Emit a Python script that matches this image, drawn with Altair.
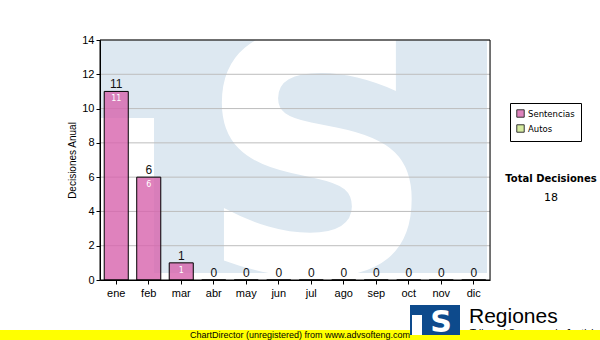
import altair as alt
import pandas as pd

# ---------------- data ----------------
months = ["ene", "feb", "mar", "abr", "may", "jun", "jul", "ago", "sep", "oct", "nov", "dic"]
sentencias = [11, 6, 1, 0, 0, 0, 0, 0, 0, 0, 0, 0]
series_names = ["Sentencias", "Autos"]
series_colors = ["#d763ac", "#cce788"]
y_ticks = [0, 2, 4, 6, 8, 10, 12, 14]
grid_values = [2, 4, 6, 8, 10, 12, 14]
y_title = "Decisiones Anual"
total_label = "Total Decisiones"
total_value = sum(sentencias)
footer_text = "ChartDirector (unregistered) from www.advsofteng.com"
logo_text = "Regiones"
logo_sub = "Tribunal Supremo de Justicia"

W, H = 390, 240
FONT = "Liberation Sans"

df = pd.DataFrame({"mes": months, "valor": sentencias, "serie": ["Sentencias"] * len(months)})
df_grid = pd.DataFrame({"valor": grid_values})
one = pd.DataFrame({"k": [0]})

x_enc = alt.X(
    "mes:N", sort=months,
    scale=alt.Scale(paddingInner=0.26, paddingOuter=0.13),
    axis=alt.Axis(title=None, labelAngle=0, tickSize=4, labelFont=FONT, labelFontSize=11,
                  labelColor="black", tickColor="black", domainColor="black", labelPadding=3,
                  zindex=1),
)
y_axis = alt.Axis(title=y_title, values=y_ticks, grid=False, tickSize=4, labelFont=FONT,
                  labelFontSize=11, labelColor="black", tickColor="black", domainColor="black",
                  labelPadding=2, titleFont=FONT, titleFontSize=10, titleFontWeight="normal",
                  titleColor="black", zindex=1)
y_scale = alt.Scale(domain=[0, 14], nice=False)
y_enc = alt.Y("valor:Q", scale=y_scale, axis=y_axis, title=y_title)

# ---------------- watermark ----------------
bg = alt.Chart(one).mark_rect(color="#dde8f1").encode(
    x=alt.value(0), x2=alt.value(387), y=alt.value(0), y2=alt.value(233))
cut = alt.Chart(one).mark_rect(color="white").encode(
    x=alt.value(0), x2=alt.value(54), y=alt.value(78), y2=alt.value(233))
big_s = alt.Chart(one).mark_text(
    text="S", font="DejaVu Sans", fontWeight="bold", fontSize=330, color="white",
    align="center", baseline="alphabetic").encode(x=alt.value(217), y=alt.value(233))

# ---------------- grid ----------------
grid = alt.Chart(df_grid).mark_rule(color="#bdbdbd", strokeWidth=1).encode(
    y=y_enc, x=alt.value(0), x2=alt.value(W))

# ---------------- bars ----------------
bars = alt.Chart(df).mark_bar(stroke="black", strokeWidth=1, fillOpacity=0.8).encode(
    x=x_enc, y=y_enc,
    color=alt.Color("serie:N", scale=alt.Scale(domain=series_names, range=series_colors),
                    legend=alt.Legend(title=None, orient="none", legendX=410, legendY=63,
                                      direction="vertical", strokeColor="black",
                                      fillColor="white", padding=6, symbolType="square",
                                      symbolSize=55, symbolStrokeColor="black",
                                      symbolStrokeWidth=1, symbolOpacity=0.8,
                                      labelFont="DejaVu Sans", labelFontSize=8.5,
                                      labelColor="black", rowPadding=2, labelOffset=3,
                                      cornerRadius=0)),
)

top_labels = alt.Chart(df).mark_text(
    font=FONT, fontSize=12, color="#111111", baseline="alphabetic", dy=-3).encode(
    x=alt.X("mes:N", sort=months), y=y_enc, text="valor:Q")

in_labels = alt.Chart(df).transform_filter("datum.valor > 0").mark_text(
    font="DejaVu Sans", fontSize=8, color="white", baseline="alphabetic", dy=10).encode(
    x=alt.X("mes:N", sort=months), y=y_enc, text="valor:Q")

frame = alt.Chart(one).mark_rect(filled=False, stroke="black", strokeWidth=1).encode(
    x=alt.value(0), x2=alt.value(W), y=alt.value(0), y2=alt.value(H))

# ---------------- side texts ----------------
tot1 = alt.Chart(one).mark_text(
    text=total_label, font="DejaVu Sans", fontWeight="bold", fontSize=10, color="black",
    align="center", baseline="alphabetic").encode(x=alt.value(451), y=alt.value(142))
tot2 = alt.Chart(one).mark_text(
    text=str(total_value), font="DejaVu Sans", fontSize=11, color="black",
    align="center", baseline="alphabetic").encode(x=alt.value(451), y=alt.value(161))

# ---------------- footer ----------------
sub = alt.Chart(one).mark_text(
    text=logo_sub, font=FONT, fontSize=10, color="black", align="left",
    baseline="alphabetic").encode(x=alt.value(370), y=alt.value(297))
yellow = alt.Chart(one).mark_rect(color="#ffff00").encode(
    x=alt.value(-100), x2=alt.value(500), y=alt.value(290), y2=alt.value(300))
foot = alt.Chart(one).mark_text(
    text=footer_text, font=FONT, fontSize=9, color="black", align="center",
    baseline="alphabetic").encode(x=alt.value(200), y=alt.value(298))
logo_box = alt.Chart(one).mark_rect(color="#0d4a8c").encode(
    x=alt.value(310), x2=alt.value(360), y=alt.value(265), y2=alt.value(295))
logo_cut = alt.Chart(one).mark_rect(color="white").encode(
    x=alt.value(312), x2=alt.value(322), y=alt.value(275), y2=alt.value(295))
logo_s = alt.Chart(one).mark_text(
    text="S", font="DejaVu Sans", fontWeight="bold", fontSize=30, color="white",
    align="center", baseline="alphabetic").encode(x=alt.value(341), y=alt.value(292))
logo_t = alt.Chart(one).mark_text(
    text=logo_text, font=FONT, fontSize=21, color="black", align="left",
    baseline="alphabetic").encode(x=alt.value(369), y=alt.value(283))

chart = alt.layer(
    bg, cut, big_s, grid, bars, top_labels, in_labels, frame,
    tot1, tot2, sub, yellow, foot, logo_box, logo_cut, logo_s, logo_t,
).properties(
    width=W, height=H,
    padding={"left": 100, "top": 40, "right": 110, "bottom": 60},
    autosize=alt.AutoSizeParams(type="none"),
).configure_view(stroke=None).configure(background="white")

chart.save("out.html", embed_options={"renderer": "svg", "actions": False})
